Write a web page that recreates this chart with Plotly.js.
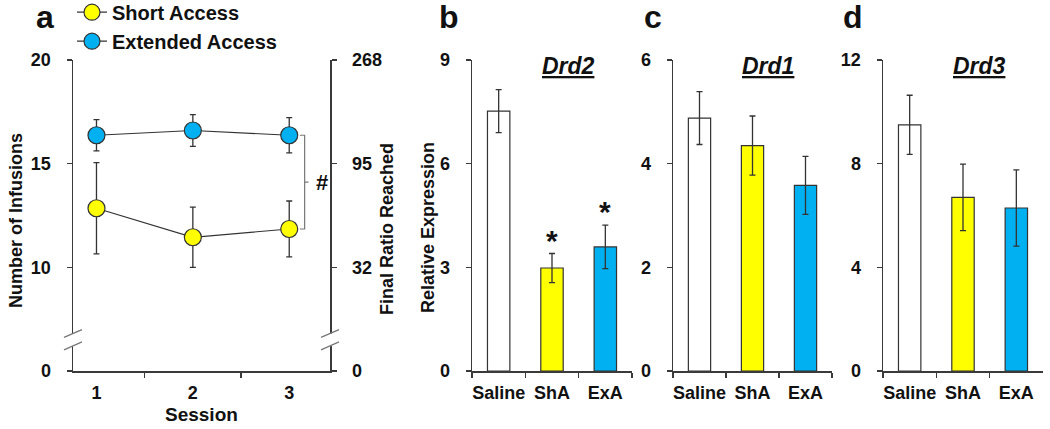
<!DOCTYPE html>
<html>
<head>
<meta charset="utf-8">
<script src="https://cdn.plot.ly/plotly-3.0.1.min.js"></script>
<style>html,body{margin:0;padding:0;background:#fff;}#chart{width:1050px;height:429px;}</style>
</head>
<body>
<div id="chart"></div>
<script>
// ---------- data ----------
const sessions = ['1', '2', '3'];
const shortMean = [12.85, 11.45, 11.85];
const shortErr = [2.2, 1.45, 1.35];
const extMean = [16.37, 16.6, 16.37];
const extErr = [0.75, 0.77, 0.85];

const leftTickVals = [5, 10, 15, 20];
const leftTickText = ['0', '10', '15', '20'];
const rightTickText = ['0', '32', '95', '268'];

const groups = ['Saline', 'ShA', 'ExA'];
const groupColors = ['#ffffff', '#ffff00', '#00b0f0'];
const drd2Mean = [7.52, 2.98, 3.59];
const drd2Err = [0.62, 0.42, 0.63];
const drd1Mean = [4.88, 4.35, 3.58];
const drd1Err = [0.51, 0.57, 0.56];
const drd3Mean = [9.5, 6.7, 6.29];
const drd3Err = [1.14, 1.28, 1.47];
const drd2Sig = [false, true, true];

// ---------- styling ----------
const FONT = 'Liberation Sans, Arial, sans-serif';
const AX = '#3a3a3a';
const tickFont = {family: FONT, size: 18, color: '#111', weight: 'bold'};
const titleFont = {family: FONT, size: 18, color: '#111', weight: 'bold'};
const H = 429, W = 1050;
const yDom = [(H - 371) / H, (H - 60) / H];
const px = v => v / W;
const py = v => 1 - v / H;

function xCat(domain) {
  return {domain: domain, type: 'category', showline: true, linecolor: AX, linewidth: 1.5,
    ticks: 'outside', tickson: 'boundaries', ticklen: 5, tickcolor: AX, tickwidth: 1.5, tickangle: 0,
    tickfont: tickFont, showgrid: false, zeroline: false, fixedrange: true, ticklabelstandoff: 5,
    automargin: false};
}
function yLin(range, dtick, anchor) {
  return {domain: yDom, anchor: anchor, range: range, dtick: dtick, tick0: 0, showline: true,
    linecolor: AX, linewidth: 1.5, ticks: 'outside', ticklen: 5, tickcolor: AX, tickwidth: 1.5,
    tickfont: tickFont, showgrid: false, zeroline: false, ticklabelstandoff: 12, automargin: false};
}

const errStyle = (arr) => ({type: 'data', array: arr, visible: true, color: '#333', thickness: 1.3, width: 3});

const traces = [
  {x: sessions, y: shortMean, name: 'Short Access', type: 'scatter', mode: 'lines+markers', xaxis: 'x', yaxis: 'y',
   line: {color: '#333', width: 1.2}, marker: {size: 17, color: '#ffff00', line: {color: '#333', width: 1.2}},
   error_y: errStyle(shortErr)},
  {x: sessions, y: extMean, name: 'Extended Access', type: 'scatter', mode: 'lines+markers', xaxis: 'x', yaxis: 'y',
   line: {color: '#333', width: 1.2}, marker: {size: 17, color: '#00b0f0', line: {color: '#333', width: 1.2}},
   error_y: errStyle(extErr)},
  {x: sessions, y: [null, null, null], type: 'scatter', xaxis: 'x', yaxis: 'y2', showlegend: false, hoverinfo: 'skip'}
];
const barSets = [[drd2Mean, drd2Err, 'x2', 'y3'], [drd1Mean, drd1Err, 'x3', 'y4'], [drd3Mean, drd3Err, 'x4', 'y5']];
barSets.forEach(([m, e, xa, ya]) => {
  traces.push({x: groups, y: m, type: 'bar', xaxis: xa, yaxis: ya, showlegend: false, width: 0.42,
    marker: {color: groupColors, line: {color: '#333', width: 1.2}}, error_y: errStyle(e)});
});

const annotations = [];
const panelLetter = (t, x) => annotations.push({text: '<b>' + t + '</b>', xref: 'paper', yref: 'paper',
  x: px(x), y: py(17), xanchor: 'center', yanchor: 'middle', showarrow: false,
  font: {family: FONT, size: 32, color: '#111'}});
panelLetter('a', 45); panelLetter('b', 449); panelLetter('c', 653); panelLetter('d', 853);

const geneTitle = (t, xa) => annotations.push({text: '<b><i><u>' + t + '</u></i></b>', xref: xa + ' domain', yref: 'paper',
  x: 0.6, y: py(66), xanchor: 'center', yanchor: 'middle', showarrow: false,
  font: {family: FONT, size: 23, color: '#111'}});
geneTitle('Drd2', 'x2'); geneTitle('Drd1', 'x3'); geneTitle('Drd3', 'x4');

// vertical axis titles
const vTitle = (t, x, y) => annotations.push({text: '<b>' + t + '</b>', xref: 'paper', yref: 'paper',
  x: px(x), y: py(y), textangle: -90, xanchor: 'center', yanchor: 'middle', showarrow: false, font: titleFont});
vTitle('Number of Infusions', 16, 221);
vTitle('Final Ratio Reached', 387, 229);
vTitle('Relative Expression', 428, 228);

// significance stars (from data)
groups.forEach((g, i) => {
  if (drd2Sig[i]) annotations.push({text: '<b>*</b>', x: g, y: drd2Mean[i] + drd2Err[i], xref: 'x2', yref: 'y3',
    yanchor: 'bottom', xanchor: 'center', showarrow: false, yshift: -5, font: {family: FONT, size: 30, color: '#111'}});
});

// bracket between groups at session 3
const last = sessions.length - 1;
const bx = last + 0.16;
const yTop = extMean[last], yBot = shortMean[last], yMid = (yTop + yBot) / 2;
annotations.push({text: '<b>#</b>', x: bx + 0.18, y: yMid, xref: 'x', yref: 'y', showarrow: false,
  xanchor: 'center', yanchor: 'middle', font: {family: FONT, size: 22, color: '#111'}});

annotations.push({text: '<b>Session</b>', xref: 'x domain', yref: 'paper', x: 0.5, y: py(414),
  xanchor: 'center', yanchor: 'middle', showarrow: false, font: {family: FONT, size: 19, color: '#111'}});

const shapes = [
  {type: 'path', xref: 'x', yref: 'y', layer: 'above',
   path: `M ${bx - 0.05} ${yTop} L ${bx} ${yTop} L ${bx} ${yBot} L ${bx - 0.05} ${yBot} M ${bx} ${yMid} L ${bx + 0.04} ${yMid}`,
   line: {color: '#777', width: 1.2}}
];
// axis breaks on both vertical axes of panel a
[0, 1].forEach((xd) => {
  shapes.push({type: 'rect', xref: 'x domain', yref: 'y', x0: xd - 0.02, x1: xd + 0.02, y0: 6.2, y1: 6.8,
    fillcolor: '#fff', line: {width: 0}, layer: 'above'});
  shapes.push({type: 'line', xref: 'x domain', yref: 'y', x0: xd - 0.035, x1: xd + 0.035, y0: 6.62, y1: 7.0,
    line: {color: '#777', width: 1.3}, layer: 'above'});
  shapes.push({type: 'line', xref: 'x domain', yref: 'y', x0: xd - 0.035, x1: xd + 0.035, y0: 6.02, y1: 6.4,
    line: {color: '#777', width: 1.3}, layer: 'above'});
});

const ya = yLin([5, 20], 5, 'x');
ya.tickmode = 'array'; ya.tickvals = leftTickVals; ya.ticktext = leftTickText;

const ya2 = {overlaying: 'y', side: 'right', anchor: 'x', range: [5, 20], tickmode: 'array', tickvals: leftTickVals,
  ticktext: rightTickText, showline: true, linecolor: AX, linewidth: 1.5, ticks: 'outside', ticklen: 5,
  tickcolor: AX, tickwidth: 1.5, tickfont: tickFont, showgrid: false, zeroline: false, ticklabelstandoff: 12,
  automargin: false};

const layout = {
  width: W, height: H, margin: {l: 0, r: 0, t: 0, b: 0, autoexpand: false}, paper_bgcolor: '#fff', plot_bgcolor: 'rgba(0,0,0,0)',
  showlegend: true, font: {family: FONT},
  legend: {x: px(72), y: 1.017, xanchor: 'left', yanchor: 'top', bgcolor: 'rgba(0,0,0,0)',
    font: {family: FONT, size: 20, color: '#111', weight: 'bold'}, itemwidth: 30, tracegroupgap: 0},
  xaxis: Object.assign(xCat([px(73), px(330)]), {anchor: 'y'}),
  yaxis: ya, yaxis2: ya2,
  xaxis2: Object.assign(xCat([px(472), px(632)]), {anchor: 'y3'}),
  yaxis3: yLin([0, 9], 3, 'x2'),
  xaxis3: Object.assign(xCat([px(673), px(832)]), {anchor: 'y4'}),
  yaxis4: yLin([0, 6], 2, 'x3'),
  xaxis4: Object.assign(xCat([px(883), px(1043)]), {anchor: 'y5'}),
  yaxis5: yLin([0, 12], 4, 'x4'),
  annotations: annotations, shapes: shapes
};

Plotly.newPlot('chart', traces, layout, {displayModeBar: false, staticPlot: true});
</script>
</body>
</html>
